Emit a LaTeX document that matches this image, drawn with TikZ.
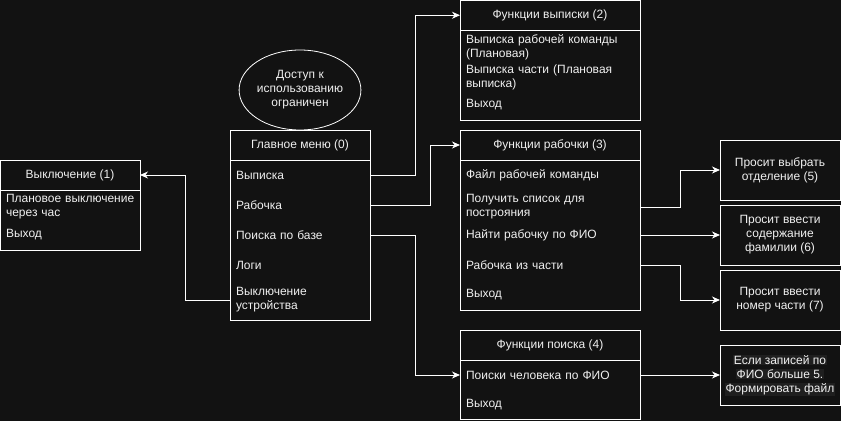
\documentclass[tikz,border=0pt]{standalone}
\usepackage{fontspec}
\setmainfont{Liberation Sans}
\usetikzlibrary{arrows.meta, shapes.geometric}
\definecolor{bgcol}{HTML}{121212}
\definecolor{txtcol}{HTML}{F0F0F0}
\definecolor{hlcol}{HTML}{1F1F1F}
\newcommand{\hlline}[1]{{\setlength{\fboxsep}{0.8pt}\colorbox{hlcol}{#1}}}
\tikzset{
	txt/.style={text=txtcol, font=\fontsize{12}{14}\selectfont},
	box/.style={draw=white, line width=1pt, outer sep=0pt, inner sep=0pt, anchor=north west},
	hdr/.style={box, txt, minimum height=30pt},
	item/.style={txt, anchor=west, outer sep=0pt, inner xsep=6pt, inner ysep=0pt, align=left, text width=#1},
	note/.style={box, txt, minimum width=120pt, minimum height=60pt, align=center},
	ell/.style={ellipse, draw=white, line width=0.8pt, txt, minimum width=120pt, minimum height=80pt, inner sep=0pt, align=center},
	arr/.style={draw=white, line width=1pt, -{Stealth[length=8pt, width=7pt, inset=2.5pt]}}
}
\begin{document}
\begin{tikzpicture}[x=1pt, y=-1pt]
	\useasboundingbox (0,0) rectangle (841,421);
	\fill[bgcol] (0,0) rectangle (841,421);
	% main menu
	\node[ell] (acc) at (300,90) {Доступ к\\использованию\\ограничен};
	\node[hdr, minimum width=140pt] (mh) at (230,130) {Главное меню (0)};
	\node[box, minimum width=140pt, minimum height=160pt] (mb) at (230,160) {};
	\node[item=128pt] (mVyp) at (230,175) {Выписка};
	\node[item=128pt] (mRab) at (230,205) {Рабочка};
	\node[item=128pt] (mPoi) at (230,235) {Поиска по базе};
	\node[item=128pt] (mLog) at (230,265) {Логи};
	\node[item=128pt] (mOff) at (230,300) {Выключение\\устройства};
	% shutdown
	\node[hdr, minimum width=140pt] (oh) at (0,160) {Выключение (1)};
	\node[box, minimum width=140pt, minimum height=60pt] (ob) at (0,190) {};
	\node[item=140pt] (oPlan) at (0,207) {Плановое выключение\\через час};
	\node[item=140pt] (oExit) at (0,235) {Выход};
	% extract functions
	\node[hdr, minimum width=180pt, minimum height=29.5pt] (vh) at (460,0.5) {Функции выписки (2)};
	\node[box, minimum width=180pt, minimum height=90pt] (vb) at (460,30) {};
	\node[item=168pt] (vTeam) at (460,47) {Выписка рабочей команды\\(Плановая)};
	\node[item=168pt] (vPart) at (460,77) {Выписка части (Плановая\\выписка)};
	\node[item=168pt] (vExit) at (460,105) {Выход};
	% work functions
	\node[hdr, minimum width=180pt] (rh) at (460,130) {Функции рабочки (3)};
	\node[box, minimum width=180pt, minimum height=150pt] (rb) at (460,160) {};
	\node[item=168pt] (rFile) at (460,175) {Файл рабочей команды};
	\node[item=168pt] (rList) at (460,207) {Получить список для\\построяния};
	\node[item=168pt] (rFio) at (460,235) {Найти рабочку по ФИО};
	\node[item=168pt] (rPart) at (460,265) {Рабочка из части};
	\node[item=168pt] (rExit) at (460,295) {Выход};
	% search functions
	\node[hdr, minimum width=180pt] (ph) at (460,330) {Функции поиска (4)};
	\node[box, minimum width=180pt, minimum height=59.5pt] (pb) at (460,360) {};
	\node[item=168pt] (pFio) at (460,375) {Поиски человека по ФИО};
	\node[item=168pt] (pExit) at (460,405) {Выход};
	% prompts
	\node[note] (n5) at (720,140) {Просит выбрать\\отделение (5)};
	\node[note] (n6) at (720,205) {Просит ввести\\содержание\\фамилии (6)};
	\node[note] (n7) at (720,270) {Просит ввести\\номер части (7)};
	\node[note] (n8) at (720,345) {\hlline{Если записей по}\\\hlline{ФИО больше 5.}\\\hlline{Формировать файл}};
	% connectors
	\draw[arr] (mOff.west) -- ++(-45,0) |- (oh.east);
	\draw[arr] (mVyp.east) -- ++(45,0) |- (vh.west);
	\draw[arr] (mRab.east) -- ++(60,0) |- (rh.west);
	\draw[arr] (mPoi.east) -- ++(45,0) |- (pFio.west);
	\draw[arr] (rList.east) -- ++(40,0) |- (n5.west);
	\draw[arr] (rFio.east) -- (n6.west);
	\draw[arr] (rPart.east) -- ++(40,0) |- (n7.west);
	\draw[arr] (pFio.east) -- (n8.west);
\end{tikzpicture}
\end{document}
